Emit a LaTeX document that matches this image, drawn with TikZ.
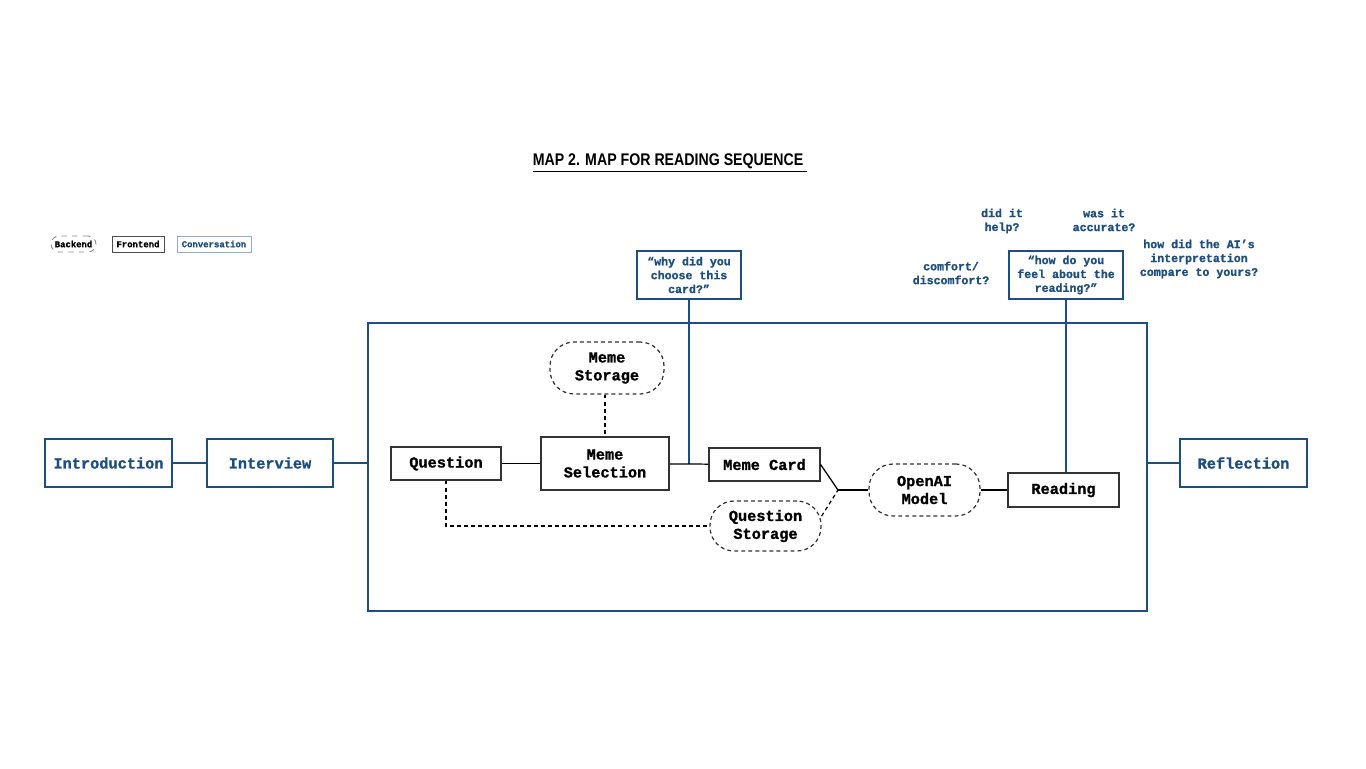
\documentclass[tikz,border=0pt]{standalone}
\usepackage{fontspec}
\setmainfont{Liberation Mono}[BoldFeatures={FakeBold=1.2}]
\newfontfamily\titlefont[FakeStretch=0.84]{Liberation Sans}
\usepackage{xcolor}
\usepackage{tikz}
\usetikzlibrary{shapes,arrows}
\definecolor{convblue}{RGB}{28,78,128}
\definecolor{legblue}{RGB}{140,175,210}

\begin{document}
\begin{tikzpicture}[x=0.02cm,y=-0.02cm,
	front/.style={draw=black!80,line width=0.7pt,fill=white,inner sep=0pt,align=center,
		font=\bfseries\fontsize{8.7}{10.2}\selectfont},
	back/.style={front,dashed,dash pattern=on 2.2pt off 1.8pt,rounded corners=0.48cm},
	stage/.style={front,draw=convblue,text=convblue,minimum height=0.96cm},
	conv/.style={draw=convblue,line width=0.8pt,text=convblue,inner sep=0pt,align=center,
		font=\bfseries\fontsize{6.6}{7.9}\selectfont},
	prompt/.style={text=convblue,inner sep=0pt,align=center,
		font=\bfseries\fontsize{6.6}{7.9}\selectfont},
	legend/.style={inner sep=0pt,minimum height=0.32cm,line width=0.5pt,
		font=\bfseries\fontsize{5.1}{6}\selectfont}]
	\useasboundingbox (0,0) rectangle (1366,768);
	\node[font=\titlefont\bfseries\fontsize{9.6}{11}\selectfont] (title) at (670,163)
		{\underline{MAP 2. MAP FOR READING SEQUENCE\ }};
	%
	\node[legend,draw=black!45,dashed,rounded corners=0.16cm,minimum width=0.9cm] (lgback) at (73.5,244) {Backend};
	\node[legend,draw=black!70,minimum width=1.04cm] (lgfront) at (138,244) {Frontend};
	\node[legend,draw=legblue,text=convblue,minimum width=1.48cm] (lgconv) at (214,244) {Conversation};
	%
	\node[stage,minimum width=2.54cm] (intro) at (108.5,463) {Introduction};
	\node[stage,minimum width=2.52cm] (interview) at (270,463) {Interview};
	\node[stage,minimum width=2.54cm] (reflection) at (1243.5,463) {Reflection};
	\node[draw=convblue,line width=0.8pt,minimum width=15.58cm,minimum height=5.76cm] (frame) at (757.5,467) {};
	%
	\node[front,minimum width=2.2cm,minimum height=0.66cm] (question) at (446,463.5) {Question};
	\node[front,minimum width=2.56cm,minimum height=1.06cm] (memesel) at (605,463.5) {Meme\\Selection};
	\node[back,minimum width=2.28cm,minimum height=1.04cm] (memestore) at (607,368) {Meme\\Storage};
	\node[front,minimum width=2.22cm,minimum height=0.66cm] (memecard) at (764.5,464.5) {Meme Card};
	\node[back,minimum width=2.22cm,minimum height=1.0cm] (qstore) at (765.5,526) {Question\\Storage};
	\node[back,minimum width=2.22cm,minimum height=1.04cm] (openai) at (924.5,490) {OpenAI\\Model};
	\node[front,minimum width=2.22cm,minimum height=0.68cm] (reading) at (1063.5,490) {Reading};
	\coordinate (join) at (838,490);
	%
	\node[conv,minimum width=2.08cm,minimum height=0.96cm] (whycard) at (689,275) {“why did you\\choose this\\card?”};
	\node[conv,minimum width=2.28cm,minimum height=0.96cm] (howfeel) at (1066,275) {“how do you\\feel about the\\reading?”};
	\node[prompt] (helped) at (1002,221) {did it\\help?};
	\node[prompt] (accurate) at (1104,220) {was it\\accurate?};
	\node[prompt] (comfort) at (951,273) {comfort/\\discomfort?};
	\node[prompt] (compare) at (1199,259) {how did the AI’s\\interpretation\\compare to yours?};
	%
	\path[draw=convblue,line width=0.8pt]
	(intro) edge (interview)
	(interview) edge (interview -| frame.west)
	(reflection) edge (reflection -| frame.east)
	(whycard) edge (whycard |- memesel)
	(howfeel.south) edge (howfeel.south |- reading.north);
	%
	\path[draw=black,line width=0.7pt]
	(question) edge (memesel)
	(memesel) edge (memecard)
	(memecard.east) edge (join)
	(join) edge (openai)
	(openai) edge (reading);
	%
	\path[draw=black,line width=0.7pt,dashed,dash pattern=on 2.2pt off 1.8pt]
	(memesel.north |- memestore.south) edge (memesel.north)
	(qstore.10) edge (join);
	\draw[black,line width=0.7pt,dash pattern=on 2.2pt off 1.8pt] (question) |- (qstore);
\end{tikzpicture}
\end{document}
